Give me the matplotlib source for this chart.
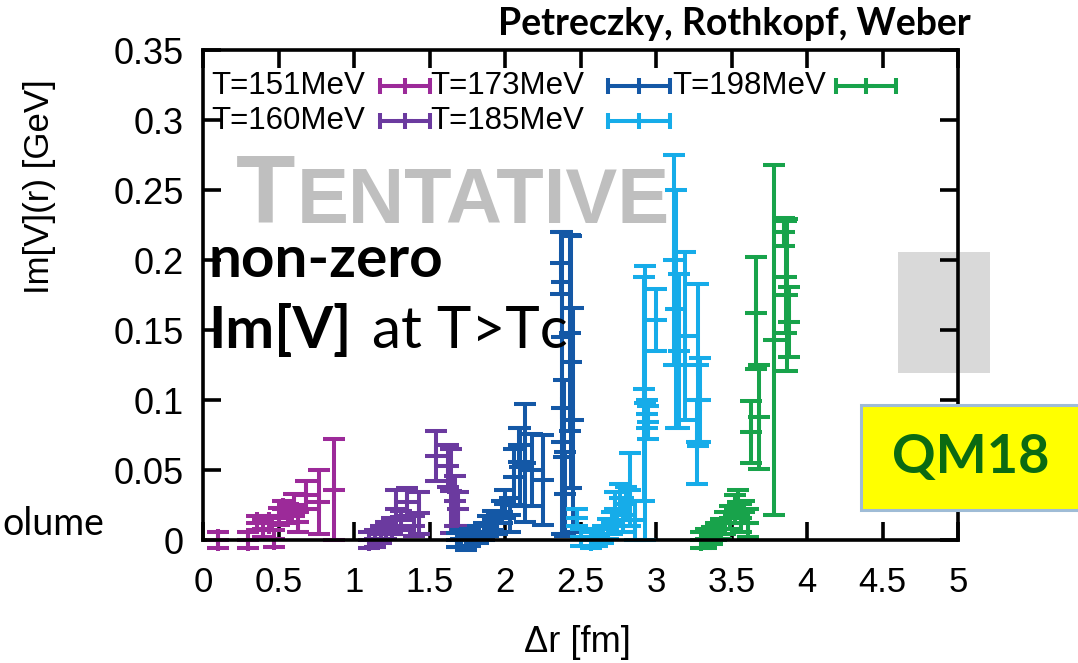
import numpy as np
import matplotlib
matplotlib.use("Agg")
import matplotlib.pyplot as plt
from matplotlib import font_manager
from matplotlib.patches import Rectangle

# ---------------- data ----------------
labels = ["T=151MeV", "T=160MeV", "T=173MeV", "T=185MeV", "T=198MeV"]
colors = ["#9c2a99", "#6b3a9f", "#1458a6", "#16ace9", "#18a34b"]

r151 = [0.10, 0.30, 0.36, 0.40, 0.44, 0.47, 0.50, 0.53, 0.56, 0.60, 0.63, 0.68, 0.77, 0.87]
v151 = [0.000, 0.000, 0.012, 0.008, 0.012, 0.001, 0.017, 0.022, 0.019, 0.025, 0.013, 0.032, 0.027, 0.036]
e151 = [0.006, 0.006, 0.005, 0.006, 0.005, 0.006, 0.006, 0.006, 0.007, 0.008, 0.007, 0.010, 0.023, 0.036]

r160 = [1.10, 1.14, 1.18, 1.21, 1.25, 1.28, 1.31, 1.35, 1.40, 1.43, 1.54, 1.62, 1.64, 1.67, 1.69]
v160 = [0.000, 0.001, 0.004, 0.007, 0.010, 0.022, 0.014, 0.027, 0.010, 0.019, 0.060, 0.053, 0.035, 0.028, 0.022]
e160 = [0.006, 0.006, 0.006, 0.006, 0.006, 0.014, 0.007, 0.010, 0.007, 0.015, 0.018, 0.015, 0.030, 0.018, 0.012]

r173 = [1.68, 1.71, 1.74, 1.77, 1.82, 1.86, 1.89, 1.92, 1.95, 1.98, 2.00, 2.03, 2.06, 2.09,
        2.10, 2.13, 2.18, 2.25, 2.37, 2.38, 2.38, 2.39, 2.40, 2.43, 2.44, 2.45]
v173 = [0.000, 0.001, 0.000, 0.002, 0.004, 0.006, 0.010, 0.014, 0.012, 0.020, 0.026, 0.018, 0.045, 0.068,
        0.052, 0.055, 0.050, 0.043, 0.198, 0.145, 0.094, 0.059, 0.033, 0.148, 0.127, 0.086]
e173 = [0.005, 0.006, 0.007, 0.006, 0.006, 0.006, 0.007, 0.007, 0.008, 0.008, 0.010, 0.012, 0.020, 0.012,
        0.028, 0.042, 0.026, 0.032, 0.022, 0.075, 0.090, 0.055, 0.030, 0.070, 0.090, 0.080]

r185 = [2.48, 2.50, 2.57, 2.61, 2.65, 2.68, 2.71, 2.73, 2.76, 2.78, 2.80, 2.83, 2.86, 2.92, 2.93,
        2.94, 2.95, 3.00, 3.12, 3.13, 3.15, 3.19, 3.27, 3.28, 3.29]
v185 = [0.016, 0.002, 0.000, 0.002, 0.004, 0.008, 0.012, 0.022, 0.030, 0.018, 0.026, 0.036, 0.014, 0.108, 0.098,
        0.090, 0.084, 0.157, 0.200, 0.165, 0.135, 0.146, 0.070, 0.125, 0.100]
e185 = [0.006, 0.006, 0.006, 0.006, 0.006, 0.007, 0.008, 0.012, 0.010, 0.012, 0.012, 0.026, 0.014, 0.080, 0.098,
        0.010, 0.012, 0.022, 0.075, 0.085, 0.055, 0.060, 0.030, 0.058, 0.030]

r198 = [3.30, 3.33, 3.37, 3.40, 3.43, 3.46, 3.49, 3.52, 3.54, 3.56, 3.58, 3.61, 3.63, 3.66, 3.68,
        3.78, 3.85, 3.86, 3.87, 3.88]
v198 = [0.000, 0.001, 0.003, 0.006, 0.008, 0.012, 0.016, 0.022, 0.027, 0.016, 0.020, 0.012, 0.077, 0.162, 0.088,
        0.143, 0.220, 0.188, 0.175, 0.156]
e198 = [0.006, 0.007, 0.006, 0.006, 0.007, 0.008, 0.008, 0.010, 0.009, 0.010, 0.008, 0.010, 0.022, 0.040, 0.037,
        0.125, 0.010, 0.040, 0.054, 0.025]

xticks = [0, 0.5, 1, 1.5, 2, 2.5, 3, 3.5, 4, 4.5, 5]
xticklabels = ["0", "0.5", "1", "1.5", "2", "2.5", "3", "3.5", "4", "4.5", "5"]
yticks = [0, 0.05, 0.1, 0.15, 0.2, 0.25, 0.3, 0.35]
yticklabels = ["0", "0.05", "0.1", "0.15", "0.2", "0.25", "0.3", "0.35"]

series = [(r151, v151, e151), (r160, v160, e160), (r173, v173, e173),
          (r185, v185, e185), (r198, v198, e198)]

# ---------------- fonts ----------------
avail = {f.name for f in font_manager.fontManager.ttflist}
def pick(*names):
    for n in names:
        if n in avail:
            return n
    return "DejaVu Sans"
GNU = pick("Liberation Sans", "Arial", "DejaVu Sans")
PPT = pick("Lato", "Open Sans", "DejaVu Sans")

# ---------------- figure ----------------
W, H = 1078, 663
fig = plt.figure(figsize=(W / 100, H / 100), dpi=100)
fig.patch.set_facecolor("white")

# back overlay in pixel coordinates
back = fig.add_axes([0, 0, 1, 1], zorder=0)
back.set_xlim(0, W); back.set_ylim(H, 0); back.axis("off")

ax = fig.add_axes([203 / W, 1 - 540 / H, (958 - 203) / W, (540 - 50) / H], zorder=1)
ax.set_facecolor("none")

front = fig.add_axes([0, 0, 1, 1], zorder=2)
front.set_xlim(0, W); front.set_ylim(H, 0); front.axis("off")
front.patch.set_alpha(0)

LW = 2.9
for (r, v, e), c in zip(series, colors):
    cont = ax.errorbar(r, v, yerr=e, fmt="+", color=c, ms=16, mew=LW,
                       elinewidth=LW, capsize=8, capthick=LW)
    for art in cont.get_children():
        art.set_clip_on(False)

ax.set_xlim(0, 5)
ax.set_ylim(0, 0.35)
ax.set_xticks(xticks)
ax.set_xticklabels(xticklabels, fontfamily=GNU)
ax.set_yticks(yticks)
ax.set_yticklabels(yticklabels, fontfamily=GNU)
ax.tick_params(direction="in", length=13, width=2.6, top=True, right=True, colors="black")
ax.tick_params(axis="x", labelsize=25, pad=19)
ax.tick_params(axis="y", labelsize=26, pad=14)
for s in ax.spines.values():
    s.set_linewidth(2.6)

# axis labels
fig.text(40 / W, 1 - 187 / H, "Im[V](r) [GeV]", rotation=90, ha="center", va="center",
         fontsize=25, fontfamily=GNU)
fig.text(577 / W, 1 - 643 / H, "\u0394r [fm]", ha="center", va="center",
         fontsize=26, fontfamily=GNU)

# legend (gnuplot style: text then sample)
leg_rows = [86, 121]
leg_text_x = [211, 430, 672]
leg_samp = [(380, 430), (608, 670), (836, 896)]
for i, (lab, c) in enumerate(zip(labels, colors)):
    col, row = i // 2, i % 2
    y = leg_rows[row]
    front.text(leg_text_x[col], y, lab, ha="left", va="center", fontsize=22.5, fontfamily=GNU)
    x0, x1 = leg_samp[col]
    front.plot([x0, x1], [y, y], color=c, lw=LW, solid_capstyle="butt")
    front.plot([x0, x0], [y - 8, y + 8], color=c, lw=LW, solid_capstyle="butt")
    front.plot([x1, x1], [y - 8, y + 8], color=c, lw=LW, solid_capstyle="butt")
    front.plot([(x0 + x1) / 2], [y], marker="+", ms=12, mew=LW, color=c)

# TENTATIVE watermark
back.text(236, 223, "T", ha="left", va="baseline", fontsize=70, fontweight="bold",
          fontfamily=GNU, color="#bfbfbf")
back.text(297, 223, "ENTATIVE", ha="left", va="baseline", fontsize=56, fontweight="bold",
          fontfamily=GNU, color="#bfbfbf")

# grey box on the right
back.add_patch(Rectangle((898, 252), 92, 121, facecolor="#d9d9d9", edgecolor="none"))

# slide annotations
front.text(208, 277, "non-zero", ha="left", va="baseline", fontsize=42, fontweight="bold",
           fontfamily=PPT, color="black")
front.text(208, 348, "Im[V]", ha="left", va="baseline", fontsize=42, fontweight="bold",
           fontfamily=PPT, color="black")
front.text(372, 348, "at T>Tc", ha="left", va="baseline", fontsize=42,
           fontfamily=PPT, color="black")

front.text(734, 35, "Petreczky, Rothkopf, Weber", ha="center", va="baseline", fontsize=27,
           fontweight="bold", fontfamily=PPT, color="black")

front.add_patch(Rectangle((861, 405), 230, 105, facecolor="#ffff00", edgecolor="#9fbcd6",
                          linewidth=2.2, clip_on=False))
front.text(971, 458, "QM18", ha="center", va="center", fontsize=39, fontweight="bold",
           fontfamily=PPT, color="#0b6a12")

front.text(2, 535, "olume", ha="left", va="baseline", fontsize=27, fontfamily=PPT,
           color="black")

fig.savefig("out.png", dpi=100, facecolor="white")
